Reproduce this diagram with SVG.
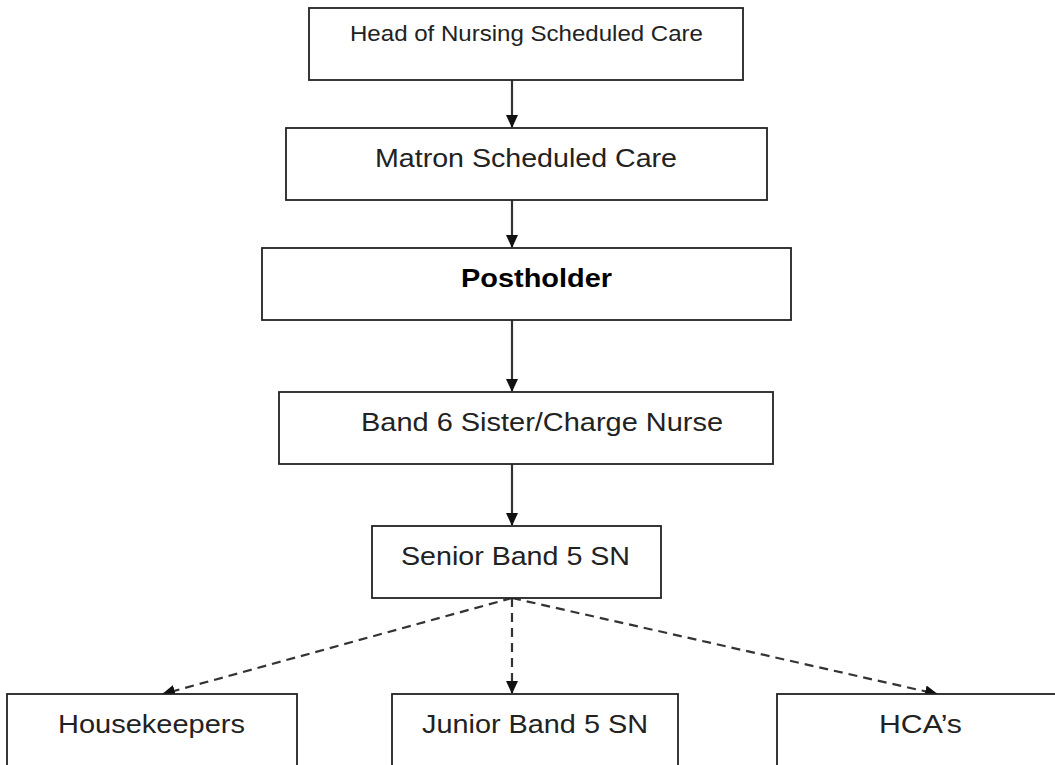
<svg xmlns="http://www.w3.org/2000/svg" width="1055" height="765" viewBox="0 0 1055 765">
<style>
.box{fill:#fff;stroke:#222;stroke-width:1.8}
.t{font-family:"Liberation Sans",Arial,sans-serif;font-size:26px;fill:#222}
.h{font-size:22px}
.b{font-weight:bold;fill:#000}
.c{stroke:#333;stroke-width:2.2;fill:none}
.d{stroke-dasharray:9,6}
</style>
<defs>
<marker id="ah" markerUnits="userSpaceOnUse" markerWidth="14" markerHeight="14" refX="12" refY="7" orient="auto">
<path d="M0,1 L13,7 L0,13 Z" fill="#111"/>
</marker>
</defs>
<rect width="1055" height="765" fill="#fff"/>
<g id="connectors">
<line class="c" x1="512" y1="80" x2="512" y2="127" marker-end="url(#ah)"/>
<line class="c" x1="512" y1="200" x2="512" y2="247" marker-end="url(#ah)"/>
<line class="c" x1="512" y1="320" x2="512" y2="391" marker-end="url(#ah)"/>
<line class="c" x1="512" y1="464" x2="512" y2="525" marker-end="url(#ah)"/>
<line class="c d" x1="512" y1="598" x2="163" y2="694" marker-end="url(#ah)"/>
<line class="c d" x1="512" y1="598" x2="512" y2="693" marker-end="url(#ah)"/>
<line class="c d" x1="512" y1="598" x2="937" y2="694" marker-end="url(#ah)"/>
</g>
<g id="head"><rect class="box" x="309" y="8" width="434" height="72"/><text class="t h" x="350" y="41" textLength="353" lengthAdjust="spacingAndGlyphs">Head of Nursing Scheduled Care</text></g>
<g id="matron"><rect class="box" x="286" y="128" width="481" height="72"/><text class="t" x="375" y="167" textLength="302" lengthAdjust="spacingAndGlyphs">Matron Scheduled Care</text></g>
<g id="postholder"><rect class="box" x="262" y="248" width="529" height="72"/><text class="t b" x="461" y="287" textLength="151" lengthAdjust="spacingAndGlyphs">Postholder</text></g>
<g id="band6"><rect class="box" x="279" y="392" width="494" height="72"/><text class="t" x="361" y="431" textLength="362" lengthAdjust="spacingAndGlyphs">Band 6 Sister/Charge Nurse</text></g>
<g id="senior"><rect class="box" x="372" y="526" width="289" height="72"/><text class="t" x="401" y="565" textLength="229" lengthAdjust="spacingAndGlyphs">Senior Band 5 SN</text></g>
<g id="housekeepers"><rect class="box" x="7" y="694" width="290" height="90"/><text class="t" x="58" y="733" textLength="187" lengthAdjust="spacingAndGlyphs">Housekeepers</text></g>
<g id="junior"><rect class="box" x="392" y="694" width="286" height="90"/><text class="t" x="422" y="733" textLength="226" lengthAdjust="spacingAndGlyphs">Junior Band 5 SN</text></g>
<g id="hca"><rect class="box" x="777" y="694" width="290" height="90"/><text class="t" x="879" y="733" textLength="83" lengthAdjust="spacingAndGlyphs">HCA’s</text></g>
</svg>
